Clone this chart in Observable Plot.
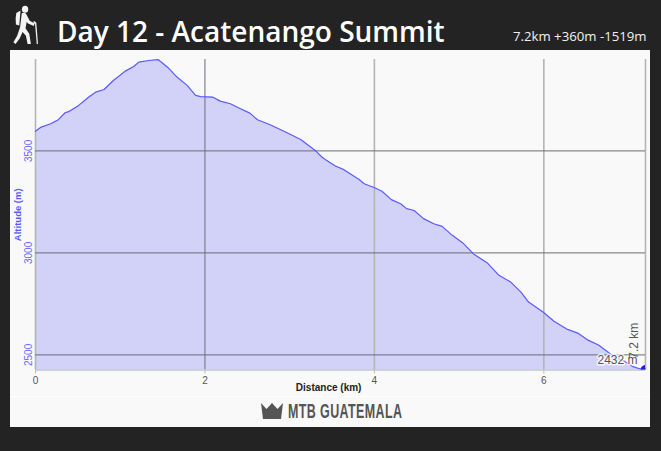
<!DOCTYPE html>
<html>
<head>
<meta charset="utf-8">
<script src="https://cdn.jsdelivr.net/npm/d3@7"></script>
<script src="https://cdn.jsdelivr.net/npm/@observablehq/plot@0.6"></script>
<style>
html,body{margin:0;padding:0;background:#232323;width:661px;height:451px;overflow:hidden}
#stage{position:relative;width:661px;height:451px;background:#232323}
.abs{position:absolute;white-space:nowrap}
#panel{left:10px;top:50px;width:640px;height:377px;background:#f9f9f9}
#sep{left:10px;top:396px;width:640px;height:1px;background:#fff}
#title{left:57px;top:11px;font:600 28px/40px "Open Sans",sans-serif;color:#fff}
#stats{left:513px;top:26px;font:400 13.2px/20px "Open Sans",sans-serif;color:#f2f2f2}
#brand{left:288px;top:400px;font:700 19.5px/22px "Liberation Sans",sans-serif;color:#555;letter-spacing:.6px;transform:scaleX(.64);transform-origin:0 0}
#plot{left:0;top:0}
#plot svg{background:transparent;display:block}
</style>
</head>
<body>
<div id="stage">
  <div class="abs" id="panel"></div>
  <div class="abs" id="sep"></div>
  <svg class="abs" style="left:13px;top:5px" width="25" height="39" viewBox="0 0 30 42" preserveAspectRatio="none" fill="#f4f4f4">
    <circle cx="14.500" cy="4.500" r="3.800"/>
    <path d="M4 8.500 L9 6 L7.500 22 L3.500 21 Q2.500 14 4 8.500Z"/>
    <path d="M10.500 9 Q14 7.500 16 10 L20 17 L26 20 L25 22.500 L18 20 L16.500 18 L15 25 L19.500 31 L21.500 42 L17.500 42 L15.500 33 L11.500 29 L8 36 L3 42 L0.500 40 L5 33 L8.500 24Z"/>
    <path d="M25 17 L28 19 L30 42 L28.500 42 L26.500 20.500 L24.500 19Z"/>
  </svg>
  <div class="abs" id="title">Day 12 - Acatenango Summit</div>
  <div class="abs" id="stats">7.2km +360m -1519m</div>
  <div class="abs" id="plot"></div>
  <svg class="abs" style="left:261px;top:403px" width="22" height="16" viewBox="0 0 22 16" fill="#555">
    <path d="M0 0 L5.500 6 L11 0 L16.500 6 L22 0 L20 16 L2 16Z"/>
  </svg>
  <div class="abs" id="brand">MTB GUATEMALA</div>
</div>
<script>
const distanceKm = [0,0.06,0.18,0.27,0.35,0.40,0.51,0.63,0.71,0.81,0.92,1.06,1.16,1.22,1.34,1.45,1.57,1.67,1.79,1.89,1.95,2.09,2.18,2.30,2.42,2.53,2.62,2.77,2.97,3.13,3.31,3.38,3.42,3.54,3.64,3.82,3.88,4.01,4.09,4.20,4.31,4.38,4.47,4.58,4.70,4.80,4.92,5.04,5.17,5.33,5.47,5.61,5.73,5.82,5.99,6.12,6.28,6.40,6.51,6.65,6.79,6.95,7.06,7.14,7.2];
const altitudeM = [3596,3615,3633,3653,3687,3694,3723,3764,3788,3801,3845,3891,3914,3935,3943,3947,3906,3862,3821,3772,3766,3764,3744,3731,3707,3685,3653,3628,3589,3556,3499,3470,3458,3426,3408,3360,3339,3318,3302,3261,3241,3217,3208,3168,3143,3130,3086,3050,2995,2952,2890,2857,2808,2759,2710,2665,2625,2607,2575,2547,2503,2469,2441,2431,2432];
const xTicks = [0,2,4,6];
const yTicks = [2500,3000,3500];
const yBase = 2426;
const yTop = 3948;
const endKm = 7.2;
const endAlt = 2432;

const profile = distanceKm.map((km,i)=>({km,alt:altitudeM[i]}));

const chart = Plot.plot({
  width:661,height:451,
  marginLeft:35,marginRight:16,marginTop:59,marginBottom:81.5,
  style:{background:"transparent",overflow:"visible",fontFamily:"'Liberation Sans',sans-serif"},
  x:{domain:[0,endKm]},
  y:{domain:[yBase,yTop]},
  marks:[
    Plot.areaY(profile,{x:"km",y1:yBase,y2:"alt",fill:"#d2d2f9"}),
    Plot.ruleX([0,4,6,endKm],{stroke:"#b4b4b4",strokeWidth:1.6,y1:yBase,y2:yTop}),
    Plot.ruleX([2],{stroke:"#6c6c74",strokeWidth:1,y1:yBase,y2:yTop}),
    Plot.ruleY(yTicks,{stroke:"#6c6c74",strokeWidth:1}),
    Plot.ruleY([yBase],{stroke:"#c4c4d4",strokeWidth:1.5}),
    Plot.axisX({ticks:xTicks,tickSize:4,stroke:"#bbb",tickPadding:3,color:"#555",fontSize:10,label:null,tickFormat:d=>String(d)}),
    Plot.text(["Distance (km)"],{x:3.46,frameAnchor:"bottom",dy:20.5,fontSize:10,fontWeight:"bold",fill:"#222"}),
    Plot.axisY({ticks:yTicks,tickSize:0,tickPadding:4,tickRotate:-90,color:"#6a6aff",fontSize:10,label:null,tickFormat:d=>String(d)}),
    Plot.text(["Altitude (m)"],{y:(yBase+yTop)/2,frameAnchor:"left",textAnchor:"middle",dx:-18,rotate:-90,fontSize:9.5,fontWeight:"bold",fill:"#5a5aff"}),
    Plot.lineY(profile,{x:"km",y:"alt",stroke:"#5a5aff",strokeWidth:1.2}),
    Plot.dot([{km:endKm,alt:yBase}],{x:"km",y:"alt",r:5,fill:"#2020d8",clip:"frame"}),
    Plot.text([{km:endKm,alt:endAlt}],{x:"km",y:"alt",text:()=>"2432 m",textAnchor:"end",dx:-8,dy:-9,fontSize:12,fill:"#555",stroke:"#fff",strokeWidth:3,strokeOpacity:.8}),
    Plot.text([{km:endKm,alt:endAlt}],{x:"km",y:"alt",text:()=>"7.2 km",rotate:-90,textAnchor:"start",dx:-11,dy:-10,fontSize:12,fill:"#555"})
  ]
});
document.getElementById("plot").append(chart);
</script>
</body>
</html>
